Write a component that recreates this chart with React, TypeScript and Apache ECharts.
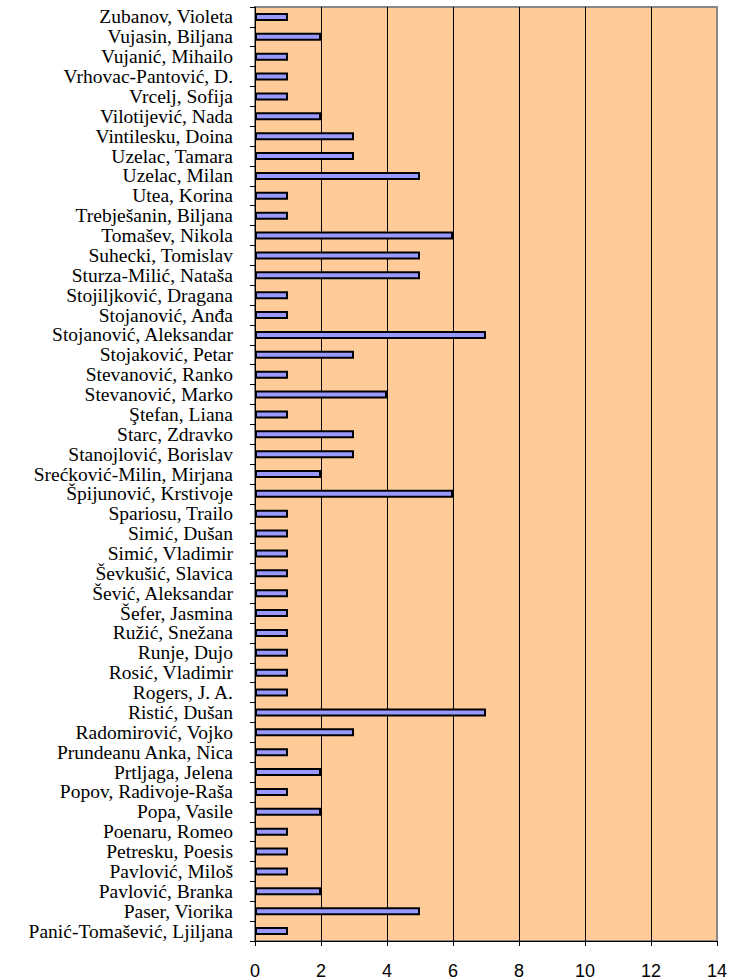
import React, { useEffect, useRef } from "react";
import * as echarts from "echarts";

const names: string[] = [
  "Zubanov, Violeta",
  "Vujasin, Biljana",
  "Vujanić, Mihailo",
  "Vrhovac-Pantović, D.",
  "Vrcelj, Sofija",
  "Vilotijević, Nada",
  "Vintilesku, Doina",
  "Uzelac, Tamara",
  "Uzelac, Milan",
  "Utea, Korina",
  "Trebješanin, Biljana",
  "Tomašev, Nikola",
  "Suhecki, Tomislav",
  "Sturza-Milić, Nataša",
  "Stojiljković, Dragana",
  "Stojanović, Anđa",
  "Stojanović, Aleksandar",
  "Stojaković, Petar",
  "Stevanović, Ranko",
  "Stevanović, Marko",
  "Ştefan, Liana",
  "Starc, Zdravko",
  "Stanojlović, Borislav",
  "Srećković-Milin, Mirjana",
  "Špijunović, Krstivoje",
  "Spariosu, Trailo",
  "Simić, Dušan",
  "Simić, Vladimir",
  "Ševkušić, Slavica",
  "Šević, Aleksandar",
  "Šefer, Jasmina",
  "Ružić, Snežana",
  "Runje, Dujo",
  "Rosić, Vladimir",
  "Rogers, J. A.",
  "Ristić, Dušan",
  "Radomirović, Vojko",
  "Prundeanu Anka, Nica",
  "Prtljaga, Jelena",
  "Popov, Radivoje-Raša",
  "Popa, Vasile",
  "Poenaru, Romeo",
  "Petresku, Poesis",
  "Pavlović, Miloš",
  "Pavlović, Branka",
  "Paser, Viorika",
  "Panić-Tomašević, Ljiljana",
];

const counts: number[] = [
  1, 2, 1, 1, 1, 2, 3, 3, 5, 1, 1, 6, 5, 5, 1, 1, 7, 3, 1, 4, 1, 3, 3, 2, 6,
  1, 1, 1, 1, 1, 1, 1, 1, 1, 1, 7, 3, 1, 2, 1, 2, 1, 1, 1, 2, 5, 1,
];

const xMin = 0;
const xMax = 14;
const xStep = 2;

export default function App() {
  const ref = useRef<HTMLDivElement>(null);
  useEffect(() => {
    if (!ref.current) return;
    const chart = echarts.init(ref.current, null, { renderer: "svg" });
    chart.setOption({
      animation: false,
      backgroundColor: "#ffffff",
      textStyle: { fontFamily: "Liberation Serif" },
      grid: {
        left: 255,
        right: 14,
        top: 7,
        bottom: 39,
        show: true,
        backgroundColor: "#FFCC99",
        borderColor: "#888888",
        borderWidth: 2,
      },
      xAxis: {
        type: "value",
        min: xMin,
        max: xMax,
        interval: xStep,
        axisLine: { show: true, lineStyle: { color: "#000", width: 1 } },
        axisTick: { show: true, length: 5, lineStyle: { color: "#000" } },
        axisLabel: {
          color: "#000",
          fontFamily: "Liberation Sans",
          fontSize: 18,
          margin: 21,
          showMaxLabel: true,
        },
        splitLine: {
          show: true,
          showMinLine: false,
          showMaxLine: false,
          lineStyle: { color: "#000", width: 1 },
        },
      },
      yAxis: {
        type: "category",
        data: names,
        inverse: true,
        axisLine: { show: true, lineStyle: { color: "#000", width: 1 } },
        axisTick: { show: true, length: 5, lineStyle: { color: "#000" } },
        axisLabel: {
          color: "#000",
          fontFamily: "Liberation Serif",
          fontSize: 19.5,
          lineHeight: 16,
          margin: 22,
          interval: 0,
        },
        splitLine: { show: false },
      },
      series: [
        {
          type: "bar",
          data: counts,
          barWidth: 8,
          itemStyle: {
            color: "#9999FF",
            borderColor: "#000",
            borderWidth: 2,
          },
        },
      ],
    });
    return () => chart.dispose();
  }, []);
  return (
    <div
      ref={ref}
      style={{ position: "absolute", left: 0, top: 0, width: 731, height: 980 }}
    />
  );
}
